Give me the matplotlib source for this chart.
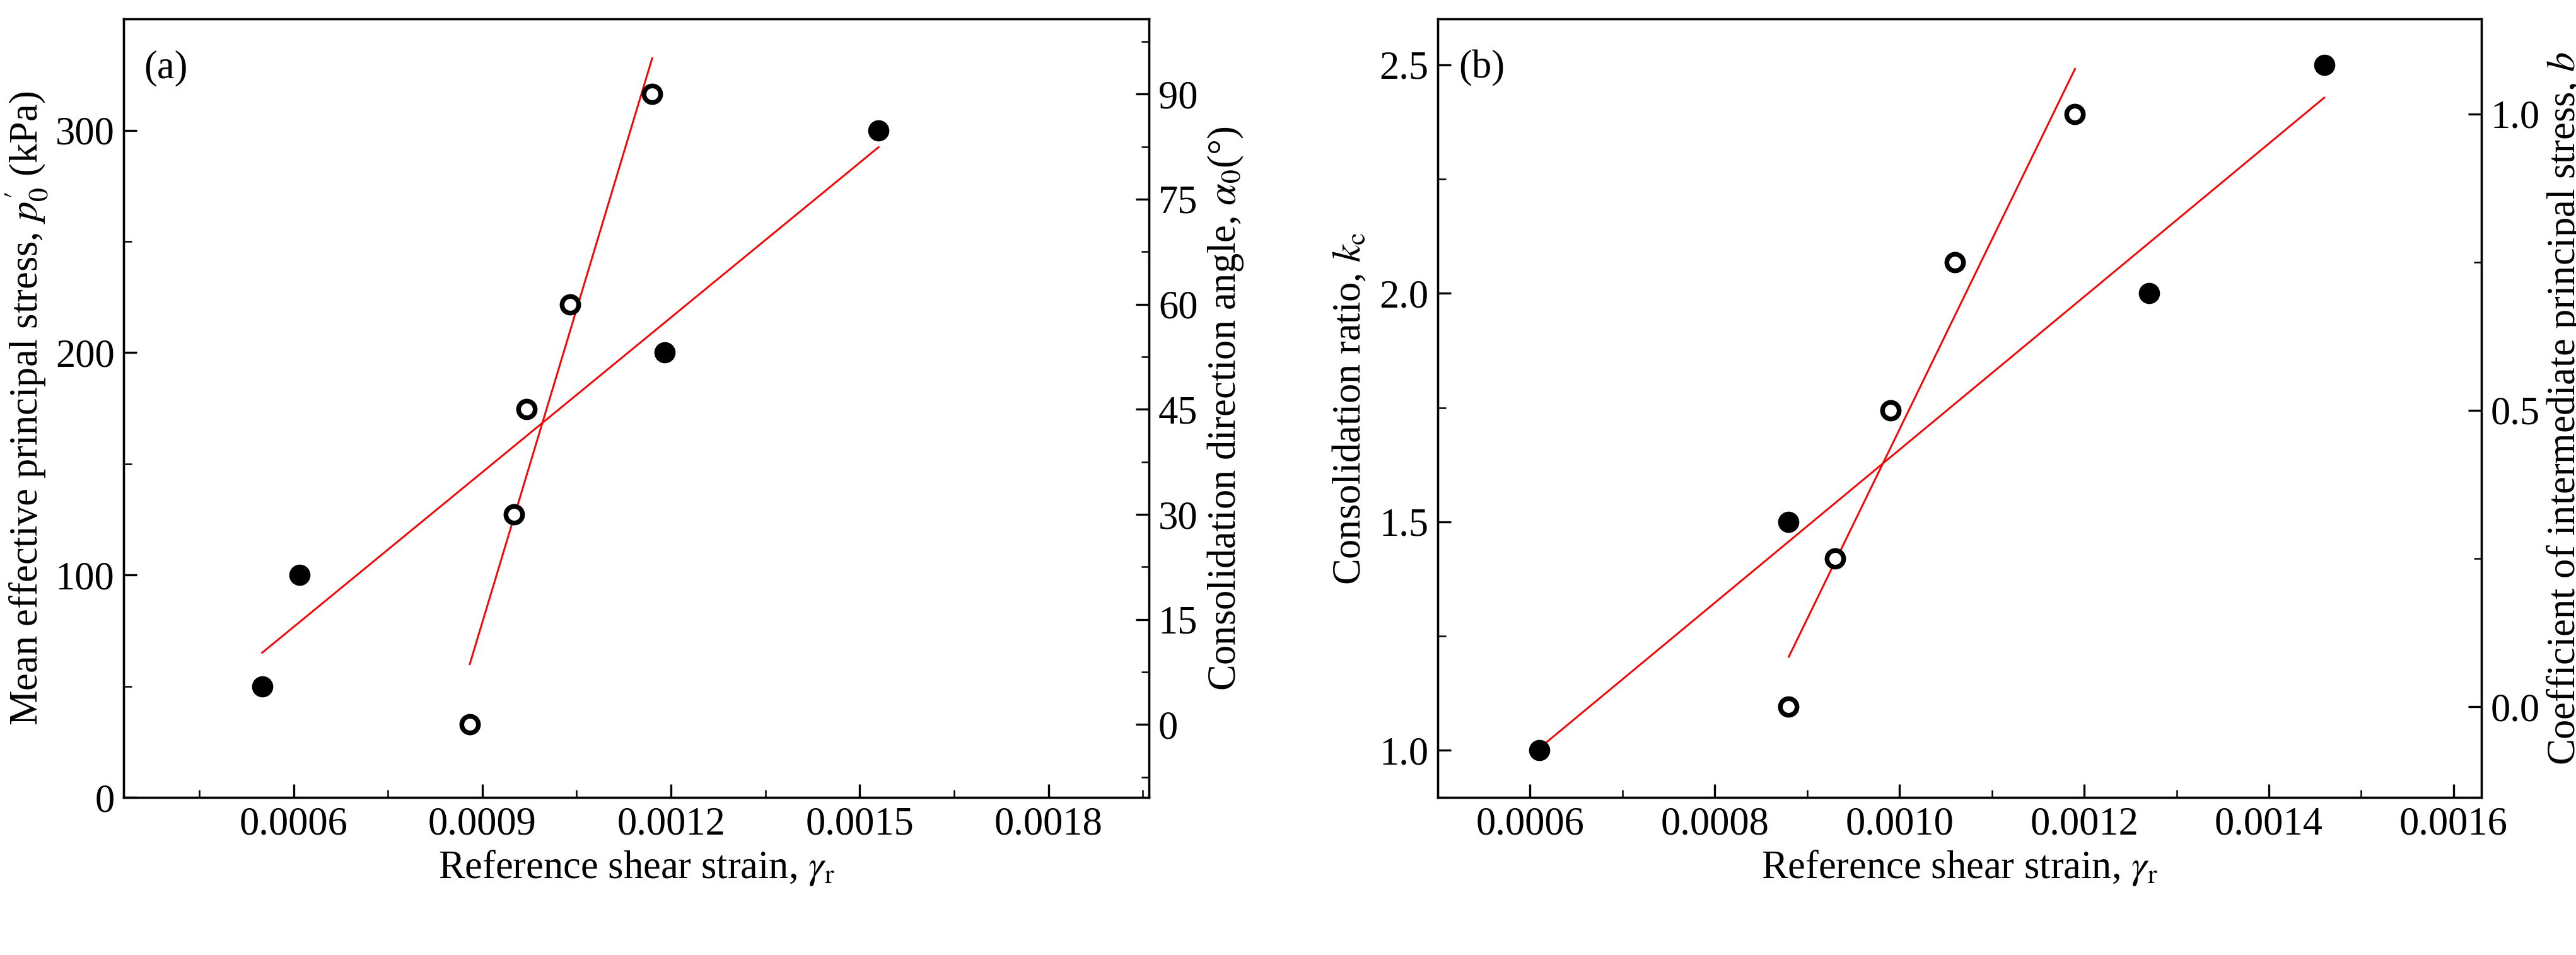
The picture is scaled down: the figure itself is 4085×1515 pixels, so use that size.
import numpy as np
import matplotlib
matplotlib.use("Agg")
import matplotlib.pyplot as plt
from matplotlib.ticker import MultipleLocator, AutoMinorLocator

plt.rcParams['font.family'] = ['Liberation Serif', 'DejaVu Serif']
plt.rcParams['mathtext.fontset'] = 'stix'
plt.rcParams['font.size'] = 15

# (a)
a_p_x = [0.00055, 0.00061, 0.00119, 0.00153]
a_p_y = [50, 100, 200, 300]
a_alpha_x = [0.00088, 0.00095, 0.00097, 0.00104, 0.00117]
a_alpha_y = [0, 30, 45, 60, 90]
# (b)
b_k_x = [0.00061, 0.00088, 0.00127, 0.00146]
b_k_y = [1.0, 1.5, 2.0, 2.5]
b_b_x = [0.00088, 0.00093, 0.00099, 0.00106, 0.00119]
b_b_y = [0.0, 0.25, 0.5, 0.75, 1.0]

fig = plt.figure(figsize=(13.62, 5.05), dpi=300)
ax1 = fig.add_axes([0.048, 0.165, 0.398, 0.815])
ax3 = fig.add_axes([0.558, 0.165, 0.405, 0.815])

def fit(ax, x, y):
    c = np.polyfit(x, y, 1)
    xs = np.array([min(x), max(x)])
    ax.plot(xs, np.polyval(c, xs), color='red', lw=0.7)

def style(ax):
    ax.tick_params(direction='in', which='both', length=5)
    ax.tick_params(which='minor', length=3)

# panel a
ax1.scatter(a_p_x, a_p_y, s=50, color='black', zorder=3)
fit(ax1, a_p_x, a_p_y)
ax1.set_xlim(0.00033, 0.00196)
ax1.set_ylim(0, 350)
ax1.set_xticks([0.0006, 0.0009, 0.0012, 0.0015, 0.0018])
ax1.set_xticklabels(['0.0006', '0.0009', '0.0012', '0.0015', '0.0018'])
ax1.xaxis.set_minor_locator(AutoMinorLocator(2))
ax1.yaxis.set_major_locator(MultipleLocator(100))
ax1.yaxis.set_minor_locator(AutoMinorLocator(2))
ax1.set_xlabel(r"Reference shear strain, $\gamma_{\rm r}$", labelpad=2)
ax1.set_ylabel(r"Mean effective principal stress, $p_0^{\prime}$ (kPa)", labelpad=2)
ax1.text(0.02, 0.96, '(a)', transform=ax1.transAxes, va='top')
style(ax1)
ax2 = ax1.twinx()
ax2.scatter(a_alpha_x, a_alpha_y, s=40, facecolor='white', edgecolor='black', linewidth=1.8, zorder=3)
fit(ax2, a_alpha_x, a_alpha_y)
ax2.set_ylim(-10.4, 100.7)
ax2.yaxis.set_major_locator(MultipleLocator(15))
ax2.yaxis.set_minor_locator(AutoMinorLocator(2))
ax2.set_ylabel(r"Consolidation direction angle, $\alpha_0$(°)", labelpad=3)
style(ax2)

# panel b
ax3.scatter(b_k_x, b_k_y, s=50, color='black', zorder=3)
fit(ax3, b_k_x, b_k_y)
ax3.set_xlim(0.0005, 0.00163)
ax3.set_ylim(0.897, 2.60)
ax3.set_xticks([0.0006, 0.0008, 0.0010, 0.0012, 0.0014, 0.0016])
ax3.set_xticklabels(['0.0006', '0.0008', '0.0010', '0.0012', '0.0014', '0.0016'])
ax3.xaxis.set_minor_locator(AutoMinorLocator(2))
ax3.yaxis.set_major_locator(MultipleLocator(0.5))
ax3.yaxis.set_minor_locator(AutoMinorLocator(2))
ax3.set_xlabel(r"Reference shear strain, $\gamma_{\rm r}$", labelpad=2)
ax3.set_ylabel(r"Consolidation ratio, $k_{\rm c}$")
ax3.text(0.02, 0.96, '(b)', transform=ax3.transAxes, va='top')
style(ax3)
ax4 = ax3.twinx()
ax4.scatter(b_b_x, b_b_y, s=40, facecolor='white', edgecolor='black', linewidth=1.8, zorder=3)
fit(ax4, b_b_x, b_b_y)
ax4.set_ylim(-0.153, 1.16)
ax4.yaxis.set_major_locator(MultipleLocator(0.5))
ax4.yaxis.set_minor_locator(AutoMinorLocator(2))
ax4.set_ylabel(r"Coefficient of intermediate principal stress, $b$", labelpad=2)
style(ax4)

fig.savefig('out.png', dpi=300)
